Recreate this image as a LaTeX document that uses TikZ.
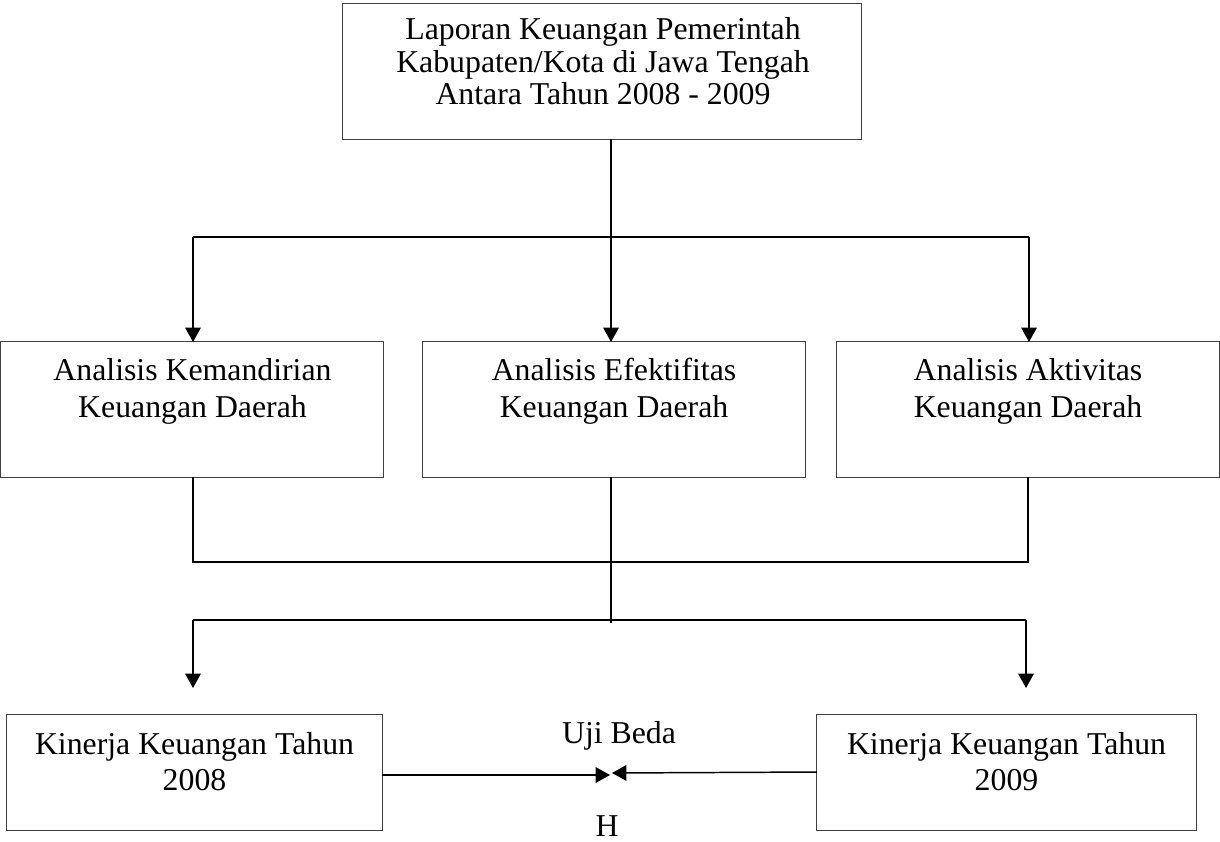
\documentclass[tikz,border=0pt]{standalone}
\usepackage{fontspec}
\setmainfont{Liberation Serif}
\usetikzlibrary{arrows.meta}
\begin{document}
\begin{tikzpicture}[x=0.025cm,y=-0.025cm,
  boxnode/.style={draw=black!75,line width=0.7pt,rectangle,inner sep=0pt,outer sep=0pt},
  toptext/.style={align=center,inner sep=0pt,font=\fontsize{22.6}{21.34}\selectfont},
  midtext/.style={align=center,inner sep=0pt,font=\fontsize{22.6}{26.1}\selectfont},
  conn/.style={line width=1.05pt,black},
  arr/.style={conn,-{Triangle[length=0.36cm,width=0.39cm]}}]
\useasboundingbox (0,0) rectangle (1220,841);
% boxes
\node[boxnode,minimum width=12.95cm,minimum height=3.375cm] (top) at (602,71.5) {};
\node[boxnode,minimum width=9.55cm,minimum height=3.375cm] (mL) at (192,409.5) {};
\node[boxnode,minimum width=9.55cm,minimum height=3.375cm] (mC) at (614,409.5) {};
\node[boxnode,minimum width=9.55cm,minimum height=3.375cm] (mR) at (1028,409.5) {};
\node[boxnode,minimum width=9.375cm,minimum height=2.9cm] (bL) at (194.5,772) {};
\node[boxnode,minimum width=9.475cm,minimum height=2.9cm] (bR) at (1006.5,772) {};
% texts
\node[toptext] (ttop) at (603,65.7) {\strut Laporan Keuangan Pemerintah\\\strut Kabupaten/Kota di Jawa Tengah\\\strut Antara Tahun 2008 - 2009};
\node[midtext] (tmL) at (192.5,391.5) {\strut Analisis Kemandirian\\\strut Keuangan Daerah};
\node[midtext] (tmC) at (614,391.5) {\strut Analisis Efektifitas\\\strut Keuangan Daerah};
\node[midtext] (tmR) at (1028,391.5) {\strut Analisis Aktivitas\\\strut Keuangan Daerah};
\node[midtext] (tbL) at (194.5,765) {\strut Kinerja Keuangan Tahun\\\strut 2008};
\node[midtext] (tbR) at (1006.5,765) {\strut Kinerja Keuangan Tahun\\\strut 2009};
\node[midtext] (uji) at (619,735.7) {\strut Uji Beda};
\node[midtext] (hh) at (607,826) {H};
% connectors
\coordinate (j1) at (611,237);
\coordinate (h1L) at (193,237);
\coordinate (h1R) at (1029,237);
\draw[conn] (top.south -| j1) -- (j1);
\draw[conn] (h1L) -- (h1R);
\draw[arr] (h1L) -- (mL.north -| h1L);
\draw[arr] (j1) -- (mC.north -| j1);
\draw[arr] (h1R) -- (mR.north -| h1R);
\coordinate (h2L) at (193,562);
\coordinate (h2R) at (1028,562);
\draw[conn] (mL.south -| h2L) -- (h2L) -- (h2R) -- (mR.south -| h2R);
\coordinate (j2) at (611,623);
\draw[conn] (mC.south -| j2) -- (j2);
\coordinate (h3L) at (193,620);
\coordinate (h3R) at (1026,620);
\coordinate (t3L) at (193,688);
\coordinate (t3R) at (1026,688);
\draw[conn] (h3L) -- (h3R);
\draw[arr] (h3L) -- (t3L);
\draw[arr] (h3R) -- (t3R);
\coordinate (tipL) at (610,775);
\coordinate (tipR) at (612,773);
\draw[arr] (bL.east |- tipL) -- (tipL);
\draw[arr] (bR.west) -- (tipR);
\end{tikzpicture}
\end{document}
